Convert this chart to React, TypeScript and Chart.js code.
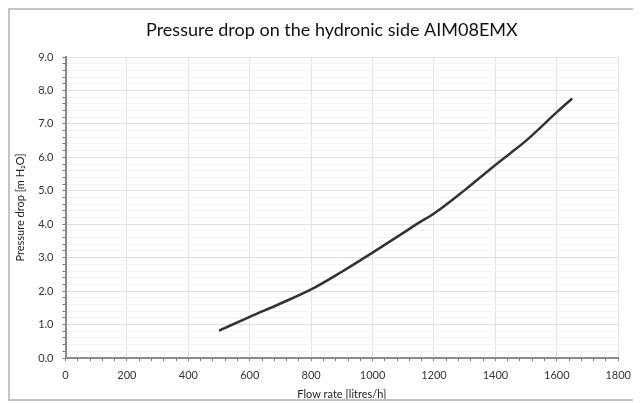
import React, { useEffect, useRef } from "react";
import { Chart, registerables } from "chart.js";

Chart.register(...registerables);

const chartTitle = "Pressure drop on the hydronic side AIM08EMX";
const flowRates = [500, 600, 700, 800, 900, 1000, 1100, 1150, 1200, 1300, 1400, 1450, 1500, 1600, 1650];
const pressureDrops = [0.82, 1.23, 1.63, 2.05, 2.58, 3.15, 3.74, 4.04, 4.32, 5.02, 5.77, 6.13, 6.5, 7.35, 7.76];
const xMax = 1800;
const yMax = 9;

const FONT = "Lato, 'Open Sans', sans-serif";

const titlePlugin = {
  id: "offsetTitle",
  afterDraw(chart: any) {
    const ctx = chart.ctx;
    const area = chart.chartArea;
    ctx.save();
    ctx.font = `normal 18px ${FONT}`;
    ctx.fillStyle = "#111";
    ctx.textAlign = "center";
    ctx.textBaseline = "middle";
    ctx.fillText(chartTitle, (area.left + area.right) / 2 - 10, 20);
    ctx.restore();
  },
};

export default function App() {
  const ref = useRef<HTMLCanvasElement | null>(null);
  useEffect(() => {
    if (!ref.current) return;
    const font = FONT;
    const chart = new Chart(ref.current, {
      type: "line",
      data: {
        datasets: [
          {
            data: flowRates.map((x, i) => ({ x, y: pressureDrops[i] })),
            borderColor: "#333333",
            borderWidth: 2.5,
            pointRadius: 0,
            cubicInterpolationMode: "monotone",
            fill: false,
          },
        ],
      },
      plugins: [titlePlugin],
      options: {
        animation: false,
        responsive: true,
        maintainAspectRatio: false,
        layout: { padding: { left: 0, right: 18, top: 47, bottom: 0 } },
        plugins: {
          legend: { display: false },
          tooltip: { enabled: false },
          title: { display: false },
        },
        scales: {
          x: {
            type: "linear",
            min: 0,
            max: xMax,
            afterFit: (s: any) => {
              s.height = 41;
            },
            ticks: {
              stepSize: 40,
              autoSkip: false,
              maxRotation: 0,
              padding: 8,
              color: "#333",
              font: { family: font, size: 11 },
              callback: (v: any) => (Math.round(v) % 200 === 0 ? String(Math.round(v)) : ""),
            },
            grid: {
              color: (c: any) => (Math.round(c.tick?.value ?? 1) % 200 === 0 ? "#e2e2e2" : "rgba(0,0,0,0)"),
              tickColor: "#777",
              tickLength: 3,
              lineWidth: 1,
            },
            border: { color: "#8a8a8a", width: 2 },
            title: {
              display: true,
              text: "Flow rate [litres/h]",
              color: "#222",
              font: { family: font, size: 11 },
              padding: { top: 0, bottom: -2 },
            },
          },
          y: {
            type: "linear",
            min: 0,
            max: yMax,
            afterFit: (s: any) => {
              s.width = 55.5;
            },
            ticks: {
              stepSize: 0.2,
              autoSkip: false,
              padding: 9,
              color: "#333",
              font: { family: font, size: 11 },
              callback: (v: any) => (Math.round(v * 10) % 10 === 0 ? (Math.round(v * 10) / 10).toFixed(1) : ""),
            },
            grid: {
              color: (c: any) => (Math.round((c.tick?.value ?? 0) * 10) % 10 === 0 ? "#e0e0e0" : "#f3f3f3"),
              tickColor: "#777",
              tickLength: 3,
              lineWidth: 1,
            },
            border: { color: "#8a8a8a", width: 2 },
            title: {
              display: true,
              text: "Pressure drop [m H₂O]",
              color: "#222",
              font: { family: font, size: 11 },
              padding: { top: 4, bottom: 0 },
            },
          },
        },
      },
    });
    return () => chart.destroy();
  }, []);
  return (
    <div
      style={{
        width: 629,
        height: 389,
        border: "2px solid #c4c4c4",
        background: "#fff",
        position: "relative",
      }}
    >
      <canvas ref={ref} />
    </div>
  );
}
